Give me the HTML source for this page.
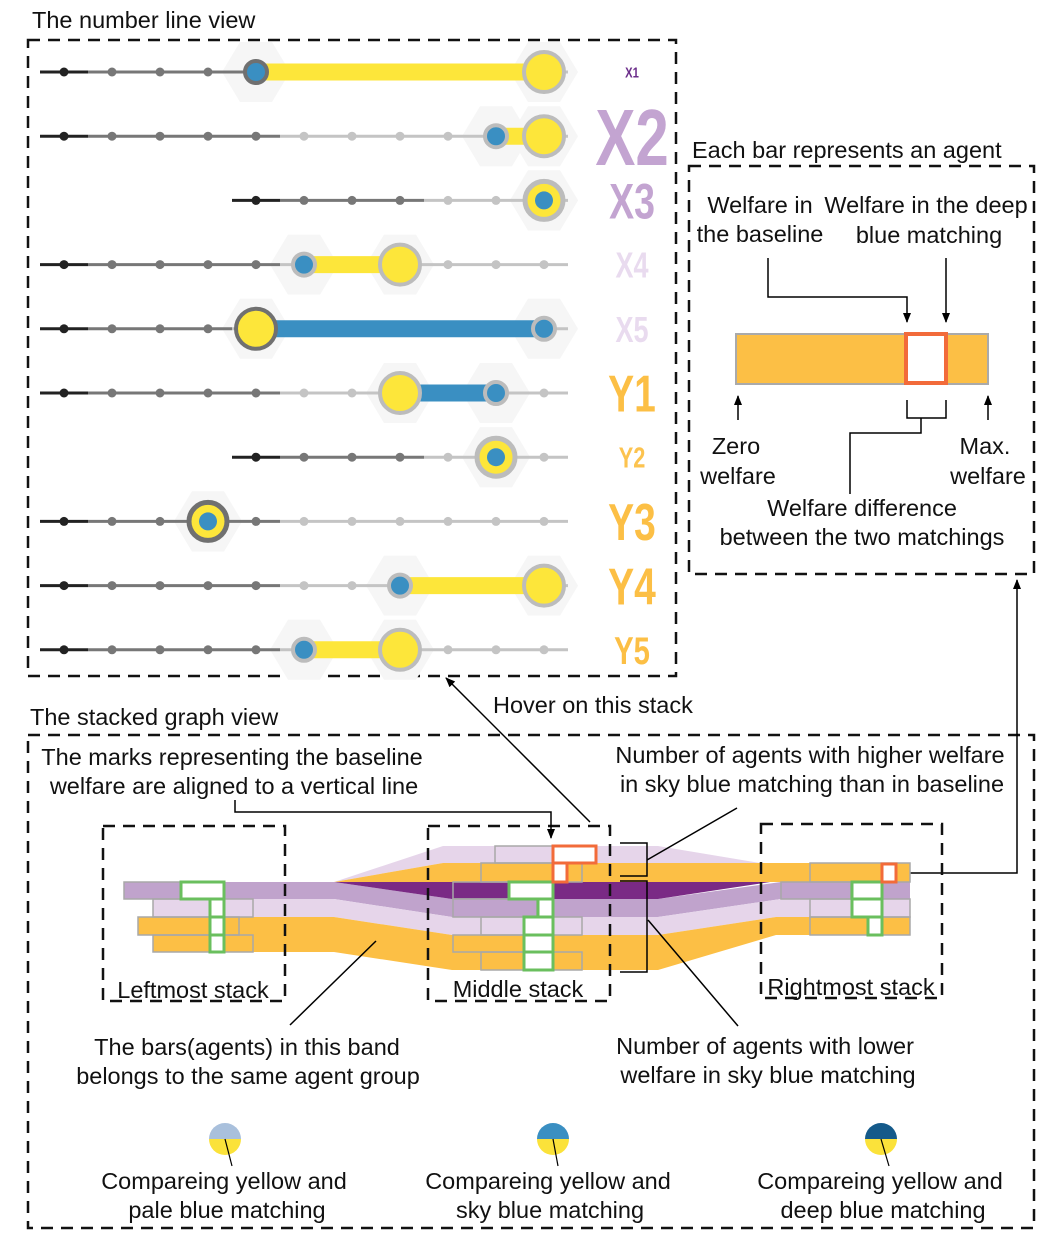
<!DOCTYPE html>
<html><head><meta charset="utf-8">
<style>
html,body{margin:0;padding:0;background:#fff;}
svg{display:block;font-family:"Liberation Sans",Arial,sans-serif;}
.t{font-size:23.5px;fill:#111;}
</style></head>
<body>
<svg id="root" width="1062" height="1237" viewBox="0 0 1062 1237" xmlns="http://www.w3.org/2000/svg">
<defs>
<marker id="ah" markerWidth="10" markerHeight="10" refX="9" refY="5" orient="auto" markerUnits="userSpaceOnUse"><path d="M0,1 L10,5 L0,9 z" fill="#000"/></marker>
</defs>

<text x="32" y="28" class="t">The number line view</text>
<rect x="28" y="40" width="648" height="636" fill="none" stroke="#111" stroke-width="2.5" stroke-dasharray="12,8"/>
<text x="692" y="158" class="t">Each bar represents an agent</text>
<rect x="689" y="166" width="345" height="408" fill="none" stroke="#111" stroke-width="2.5" stroke-dasharray="12,8"/>
<text x="30" y="725" class="t">The stacked graph view</text>
<rect x="28" y="735" width="1006" height="493" fill="none" stroke="#111" stroke-width="2.5" stroke-dasharray="12,8"/>

<g id="numline"></g>

<g>
<text class="t" text-anchor="middle" x="760" y="213">Welfare in</text>
<text class="t" text-anchor="middle" x="760" y="242">the baseline</text>
<text class="t" text-anchor="middle" x="926" y="213">Welfare in the deep</text>
<text class="t" text-anchor="middle" x="929" y="243">blue matching</text>
<path d="M768,258 V297 H907 V322" fill="none" stroke="#000" stroke-width="1.5" marker-end="url(#ah)"/>
<path d="M946,258 V322" fill="none" stroke="#000" stroke-width="1.5" marker-end="url(#ah)"/>
<rect x="736" y="334" width="252" height="50" fill="#fcbf45" stroke="#aaa" stroke-width="2"/>
<rect x="906" y="334" width="40" height="49" fill="#fff" stroke="#f26b3a" stroke-width="4"/>
<path d="M738,420 V396" fill="none" stroke="#000" stroke-width="1.5" marker-end="url(#ah)"/>
<path d="M988,420 V396" fill="none" stroke="#000" stroke-width="1.5" marker-end="url(#ah)"/>
<path d="M907,400 V418 H946 V400 M921,418 V433 H850 V494" fill="none" stroke="#000" stroke-width="1.5"/>
<text class="t" text-anchor="middle" x="736" y="454">Zero</text>
<text class="t" text-anchor="middle" x="738" y="484">welfare</text>
<text class="t" text-anchor="middle" x="985" y="454">Max.</text>
<text class="t" text-anchor="middle" x="988" y="484">welfare</text>
<text class="t" text-anchor="middle" x="862" y="516">Welfare difference</text>
<text class="t" text-anchor="middle" x="862" y="545">between the two matchings</text>
</g>

<path d="M910,873 H1017 V580" fill="none" stroke="#000" stroke-width="1.5" marker-end="url(#ah)"/>
<path d="M590,822 L446,678" fill="none" stroke="#000" stroke-width="1.5" marker-end="url(#ah)"/>
<text class="t" x="493" y="713">Hover on this stack</text>

<g>
<polygon points="334,882 443,846 658,846 760,863 443,863" fill="#e6d5ea"/>
<polygon points="334,882 443,863 910,863 910,882" fill="#fcbf45"/>
<polygon points="124,882 334,882 452,899 658,899 781,882 910,882 910,899 781,899 658,917 452,917 334,899 124,899" fill="#c0a3cc"/>
<polygon points="334,882 770,882 658,899 452,899" fill="#7a2a85"/>
<polygon points="153,899 334,899 452,917 658,917 781,899 910,899 910,917 776,917 658,935 452,935 334,917 153,917" fill="#e6d5ea"/>
<polygon points="138,917 334,917 452,935 658,935 776,917 910,917 910,935 776,935 658,970 452,970 334,952 153,952 153,935 138,935" fill="#fcbf45"/>
<g fill="none" stroke="#a8a8a8" stroke-width="1.5">
<rect x="124" y="882" width="100" height="17"/><rect x="153" y="899" width="100" height="18"/><rect x="138" y="917" width="101" height="18"/><rect x="153" y="935" width="100" height="17"/>
<rect x="495" y="846" width="101" height="17"/><rect x="481" y="863" width="101" height="19"/><rect x="453" y="882" width="100" height="17"/><rect x="453" y="899" width="84" height="18"/><rect x="481" y="917" width="101" height="18"/><rect x="453" y="935" width="100" height="17"/><rect x="481" y="952" width="101" height="18"/>
<rect x="810" y="863" width="100" height="19"/><rect x="781" y="882" width="70" height="17"/><rect x="810" y="899" width="100" height="18"/><rect x="810" y="917" width="100" height="18"/>
</g>
<g fill="#fff" stroke="#6abf5e" stroke-width="3">
<rect x="181" y="882" width="43" height="17"/><rect x="210" y="899" width="14" height="18"/><rect x="210" y="917" width="14" height="18"/><rect x="210" y="935" width="14" height="17"/>
<rect x="509" y="882" width="44" height="17"/><rect x="538" y="899" width="15" height="18"/><rect x="524" y="917" width="29" height="18"/><rect x="524" y="935" width="29" height="17"/><rect x="524" y="952" width="29" height="18"/>
<rect x="852" y="882" width="30" height="17"/><rect x="852" y="899" width="30" height="18"/><rect x="868" y="917" width="14" height="18"/>
</g>
<g fill="#fff" stroke="#f26b3a" stroke-width="3">
<rect x="553" y="846" width="43" height="17"/><rect x="553" y="863" width="14" height="19"/><rect x="882" y="864" width="14" height="18"/>
</g>
<g fill="none" stroke="#111" stroke-width="2.5" stroke-dasharray="12,8">
<rect x="103" y="826" width="182" height="175"/>
<rect x="428" y="826" width="182" height="175"/>
<rect x="761" y="824" width="181" height="174"/>
</g>
<path d="M620,843 H647 V876 H620 M620,881 H647 V972 H620" fill="none" stroke="#000" stroke-width="1.5"/>
<path d="M235,800 V812 H551 V838" fill="none" stroke="#000" stroke-width="1.5" marker-end="url(#ah)"/>
<path d="M737,808 L647,860 M648,920 L738,1026 M376,941 L290,1025" fill="none" stroke="#000" stroke-width="1.5"/>
<text class="t" text-anchor="middle" x="232" y="765">The marks representing the baseline</text>
<text class="t" text-anchor="middle" x="234" y="794">welfare are aligned to a vertical line</text>
<text class="t" text-anchor="middle" x="810" y="763">Number of agents with higher welfare</text>
<text class="t" text-anchor="middle" x="812" y="792">in sky blue matching than in baseline</text>
<text class="t" text-anchor="middle" x="193" y="998">Leftmost stack</text>
<text class="t" text-anchor="middle" x="518" y="997">Middle stack</text>
<text class="t" text-anchor="middle" x="851" y="995">Rightmost stack</text>
<text class="t" text-anchor="middle" x="247" y="1055">The bars(agents) in this band</text>
<text class="t" text-anchor="middle" x="248" y="1084">belongs to the same agent group</text>
<text class="t" text-anchor="middle" x="765" y="1054">Number of agents with lower</text>
<text class="t" text-anchor="middle" x="768" y="1083">welfare in sky blue matching</text>
</g>

<g>
<g>
<path d="M209,1139 A16,16 0 0 1 241,1139 Z" fill="#a9c0dc"/><path d="M209,1139 A16,16 0 0 0 241,1139 Z" fill="#fbe23a"/>
<path d="M225,1139 L232,1166" stroke="#000" stroke-width="1.2"/>
<text class="t" text-anchor="middle" x="224" y="1189">Compareing yellow and</text>
<text class="t" text-anchor="middle" x="227" y="1218">pale blue matching</text></g>
<g>
<path d="M537,1139 A16,16 0 0 1 569,1139 Z" fill="#3a8fc2"/><path d="M537,1139 A16,16 0 0 0 569,1139 Z" fill="#fbe23a"/>
<path d="M553,1139 L558,1166" stroke="#000" stroke-width="1.2"/>
<text class="t" text-anchor="middle" x="548" y="1189">Compareing yellow and</text>
<text class="t" text-anchor="middle" x="550" y="1218">sky blue matching</text></g>
<g>
<path d="M865,1139 A16,16 0 0 1 897,1139 Z" fill="#155a8a"/><path d="M865,1139 A16,16 0 0 0 897,1139 Z" fill="#fbe23a"/>
<path d="M881,1139 L889,1166" stroke="#000" stroke-width="1.2"/>
<text class="t" text-anchor="middle" x="880" y="1189">Compareing yellow and</text>
<text class="t" text-anchor="middle" x="883" y="1218">deep blue matching</text></g>
</g>
</svg>

<script>
const agents = ["X1","X2","X3","X4","X5","Y1","Y2","Y3","Y4","Y5"];
const startIdx = [0,0,4,0,0,0,4,0,0,0];
const midEnd = [4,4,7,4,3,4,7,4,4,4];
const yellowVal = [10,10,10,7,4,7,9,3,10,7];
const blueVal = [4,9,10,5,10,9,9,3,7,5];
const darkRingYellow = [0,0,0,0,1,0,0,1,0,0];
const darkRingBlue = [1,0,0,0,0,0,0,0,0,0];
const labelSize = [15,80,50,36,36,52,29,52,52,39];
const labelColor = ["#6b2d8a","#c3a4d1","#c3a4d1","#e9dbef","#e9dbef","#fcbf45","#fcc34f","#fcbf45","#fcbf45","#fcbf45"];

const NS="http://www.w3.org/2000/svg";
const g=document.getElementById('numline');
const xS=v=>64+48*v;
const yS=i=>72+64.2*i;
function mk(tag,attrs){const e=document.createElementNS(NS,tag);for(const k in attrs)e.setAttribute(k,attrs[k]);g.appendChild(e);return e;}
agents.forEach((a,i)=>{
  const y=yS(i), s=startIdx[i], m=midEnd[i];
  const x0=xS(s)-24;
  [yellowVal[i],blueVal[i]].forEach(v=>{
    const cx=xS(v);
    const h=mk('polygon',{points:`${cx-34},${y} ${cx-16},${y-30} ${cx+16},${y-30} ${cx+34},${y} ${cx+16},${y+30} ${cx-16},${y+30}`,fill:'#f6f6f6'});
    
    
  });
  const l1=mk('line',{x1:x0,y1:y,x2:xS(s)+24,y2:y,stroke:'#222','stroke-width':3});
  
  
  const l2=mk('line',{x1:xS(s)+24,y1:y,x2:xS(m)+24,y2:y,stroke:'#777','stroke-width':3});
  
  
  const l3=mk('line',{x1:xS(m)+24,y1:y,x2:568,y2:y,stroke:'#c4c4c4','stroke-width':3});
  
  
  for(let k=s;k<=10;k++){
    const d=mk('circle',{cx:xS(k),cy:y,r:4.5,fill:k===s?'#222':(k<=m?'#777':'#c4c4c4')});
    
    
  }
  const yv=yellowVal[i], bv=blueVal[i];
  if(yv!==bv){
    const bar=mk('line',{x1:xS(Math.min(yv,bv)),y1:y,x2:xS(Math.max(yv,bv)),y2:y,stroke:bv>yv?'#3a8fc2':'#fde63a','stroke-width':17});
    
    
    const yc=mk('circle',{cx:xS(yv),cy:y,r:20,fill:'#fde63a',stroke:darkRingYellow[i]?'#707070':'#bcbcbc','stroke-width':4});
    
    
    const bc=mk('circle',{cx:xS(bv),cy:y,r:11,fill:'#3a8fc2',stroke:darkRingBlue[i]?'#707070':'#bcbcbc','stroke-width':4});
    
    
  } else {
    const yc=mk('circle',{cx:xS(yv),cy:y,r:19,fill:'#fde63a',stroke:darkRingYellow[i]?'#707070':'#bcbcbc','stroke-width':5});
    
    
    const bc=mk('circle',{cx:xS(bv),cy:y,r:9,fill:'#3a8fc2'});
    
    
  }
  const fs=labelSize[i];
  const t=mk('text',{'text-anchor':'middle','font-size':fs,'font-weight':'bold',fill:labelColor[i],transform:`translate(632,${y+fs*0.36}) scale(0.75,1)`});
  t.textContent=a;
  
  
});
</script>
</body></html>
